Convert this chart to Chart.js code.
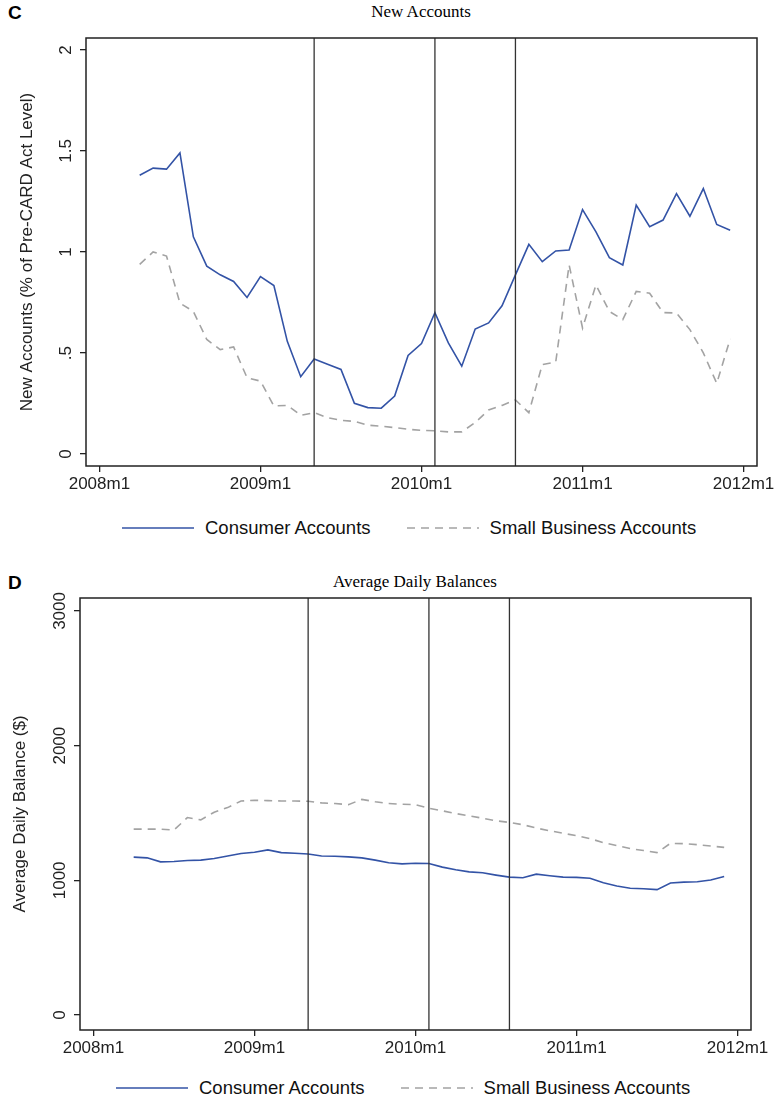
<!DOCTYPE html>
<html>
<head>
<meta charset="utf-8">
<script src="https://cdn.jsdelivr.net/npm/chart.js@4"></script>
<style>
  body { margin: 0; background: #fff; font-family: "Liberation Sans", Arial, sans-serif; }
  #page { position: relative; width: 778px; height: 1102px; }
  .panel { position: absolute; left: 0; width: 778px; height: 500px; }
  .tag { position: absolute; left: 8px; font-weight: bold; font-size: 19px; }
  .title { position: absolute; font-family: "Liberation Serif", "Times New Roman", serif; font-size: 17px; transform: translateX(-50%); }
  .legend { position: absolute; font-size: 18.5px; display: flex; align-items: center; color: #111; }
  .legend svg { margin-right: 11px; }
</style>
</head>
<body>
<div id="page">
  <div class="tag" style="top:2px">C</div>
  <div class="title" style="left:421px;top:2px">New Accounts</div>
  <div class="panel" style="top:0"><canvas id="c1"></canvas></div>
  <div class="legend" style="left:122px;top:517px">
    <svg width="72" height="4"><line x1="0" y1="2" x2="72" y2="2" stroke="#3353a6" stroke-width="1.6"/></svg>Consumer Accounts
    <svg width="72" height="4" style="margin-left:36px"><line x1="0" y1="2" x2="72" y2="2" stroke="#a3a3a3" stroke-width="1.6" stroke-dasharray="8 6"/></svg>Small Business Accounts
  </div>

  <div class="tag" style="top:572px">D</div>
  <div class="title" style="left:415px;top:572px">Average Daily Balances</div>
  <div class="panel" style="top:560px"><canvas id="c2"></canvas></div>
  <div class="legend" style="left:116px;top:1077px">
    <svg width="72" height="4"><line x1="0" y1="2" x2="72" y2="2" stroke="#3353a6" stroke-width="1.6"/></svg>Consumer Accounts
    <svg width="72" height="4" style="margin-left:36px"><line x1="0" y1="2" x2="72" y2="2" stroke="#a3a3a3" stroke-width="1.6" stroke-dasharray="8 6"/></svg>Small Business Accounts
  </div>
</div>
<script>
// months counted from 2008m1 = 0; series run 2008m4 .. 2011m12
const firstMonth = 3;
const xTicks = [0, 12, 24, 36, 48];
const xTickLabels = ['2008m1', '2009m1', '2010m1', '2011m1', '2012m1'];
const eventMonths = [16, 25, 31];

const newConsumer = [1.38, 1.415, 1.41, 1.49, 1.075, 0.93, 0.887, 0.854, 0.775, 0.878, 0.834, 0.558, 0.383,
  0.471, 0.445, 0.419, 0.251, 0.23, 0.227, 0.287, 0.488, 0.547, 0.70, 0.55, 0.435, 0.619, 0.649, 0.734,
  0.887, 1.038, 0.952, 1.005, 1.01, 1.21, 1.10, 0.972, 0.936, 1.232, 1.125, 1.158, 1.289, 1.177, 1.314,
  1.136, 1.108];
const newSmallBiz = [0.939, 1.00, 0.98, 0.747, 0.706, 0.567, 0.517, 0.53, 0.378, 0.361, 0.238, 0.241, 0.192,
  0.205, 0.18, 0.167, 0.162, 0.143, 0.138, 0.131, 0.123, 0.117, 0.115, 0.11, 0.11, 0.156, 0.218, 0.241,
  0.268, 0.205, 0.443, 0.455, 0.936, 0.624, 0.837, 0.706, 0.665, 0.805, 0.796, 0.70, 0.698, 0.616, 0.501,
  0.35, 0.57];
const newYTicks = [0, 0.5, 1, 1.5, 2];
const newYLabels = ['0', '.5', '1', '1.5', '2'];

const balConsumer = [1172, 1167, 1137, 1140, 1147, 1150, 1162, 1181, 1199, 1209, 1226, 1206, 1201, 1196,
  1181, 1179, 1174, 1167, 1150, 1130, 1122, 1127, 1125, 1098, 1078, 1063, 1056, 1039, 1024, 1019, 1046,
  1034, 1024, 1022, 1015, 982, 958, 941, 938, 931, 980, 987, 990, 1002, 1029];
const balSmallBiz = [1380, 1380, 1380, 1373, 1466, 1449, 1506, 1540, 1589, 1594, 1592, 1589, 1589, 1587,
  1575, 1570, 1562, 1601, 1584, 1570, 1565, 1562, 1535, 1516, 1496, 1479, 1461, 1442, 1430, 1413, 1388,
  1368, 1349, 1332, 1310, 1280, 1258, 1236, 1221, 1206, 1275, 1272, 1265, 1255, 1245];
const balYTicks = [0, 1000, 2000, 3000];
const balYLabels = ['0', '1000', '2000', '3000'];

const FONT = '"Liberation Sans", Arial, sans-serif';
const toPoints = vals => vals.map((v, i) => ({ x: firstMonth + i, y: v }));

const framePlugin = {
  id: 'frame',
  afterDatasetsDraw(chart, args, opts) {
    const { ctx, chartArea: a, scales } = chart;
    ctx.save();
    ctx.strokeStyle = '#333';
    ctx.lineWidth = 1.3;
    eventMonths.forEach(m => {
      const x = scales.x.getPixelForValue(m);
      ctx.beginPath(); ctx.moveTo(x, a.top); ctx.lineTo(x, a.bottom); ctx.stroke();
    });
    ctx.lineWidth = 1.5;
    ctx.strokeStyle = '#222';
    ctx.strokeRect(a.left, a.top, a.right - a.left, a.bottom - a.top);
    // rotated y tick labels and axis title
    ctx.fillStyle = '#222';
    ctx.font = '17px ' + FONT;
    ctx.textAlign = 'center';
    ctx.textBaseline = 'middle';
    opts.ticks.forEach((t, i) => {
      const y = scales.y.getPixelForValue(t);
      ctx.save(); ctx.translate(a.left - 20, y); ctx.rotate(-Math.PI / 2);
      ctx.fillText(opts.labels[i], 0, 0); ctx.restore();
    });
    ctx.save();
    ctx.translate(opts.titleX, (a.top + a.bottom) / 2);
    ctx.rotate(-Math.PI / 2);
    ctx.fillText(opts.title, 0, 0);
    ctx.restore();
    ctx.restore();
  }
};

function makeChart(id, cons, biz, yMin, yMax, yTicks, yLabels, title, titleX, yw, right, xh) {
  new Chart(document.getElementById(id), {
    type: 'line',
    data: {
      datasets: [
        { data: toPoints(cons), borderColor: '#3353a6', borderWidth: 1.6, pointRadius: 0, tension: 0 },
        { data: toPoints(biz), borderColor: '#a3a3a3', borderWidth: 1.6, borderDash: [8, 6], pointRadius: 0, tension: 0 }
      ]
    },
    options: {
      responsive: false,
      animation: false,
      layout: { padding: { top: 38, right: right, left: 0, bottom: 0 } },
      plugins: {
        legend: { display: false },
        tooltip: { enabled: false },
        frame: { ticks: yTicks, labels: yLabels, title: title, titleX: titleX }
      },
      scales: {
        x: {
          type: 'linear', min: -1, max: 49,
          afterBuildTicks: s => { s.ticks = xTicks.map(v => ({ value: v })); },
          afterFit: s => { s.height = xh; },
          grid: { drawOnChartArea: false, tickLength: 6, color: '#222', lineWidth: 1.3 },
          border: { display: false },
          ticks: {
            maxRotation: 0, color: '#222', padding: 2,
            font: { family: FONT, size: 17 },
            callback: v => xTickLabels[xTicks.indexOf(v)]
          }
        },
        y: {
          min: yMin, max: yMax,
          afterBuildTicks: s => { s.ticks = yTicks.map(v => ({ value: v })); },
          afterFit: s => { s.width = yw; },
          grid: { drawOnChartArea: false, tickLength: 6, color: '#222', lineWidth: 1.3 },
          border: { display: false },
          ticks: { display: false }
        }
      }
    },
    plugins: [framePlugin]
  });
}

for (const id of ['c1', 'c2']) {
  const c = document.getElementById(id);
  c.width = 778; c.height = 500;
}
makeChart('c1', newConsumer, newSmallBiz, -0.059, 2.059, newYTicks, newYLabels,
  'New Accounts (% of Pre-CARD Act Level)', 27, 86, 21, 34);
makeChart('c2', balConsumer, balSmallBiz, -111, 3096, balYTicks, balYLabels,
  'Average Daily Balance ($)', 20, 80, 27, 30);
</script>
</body>
</html>
